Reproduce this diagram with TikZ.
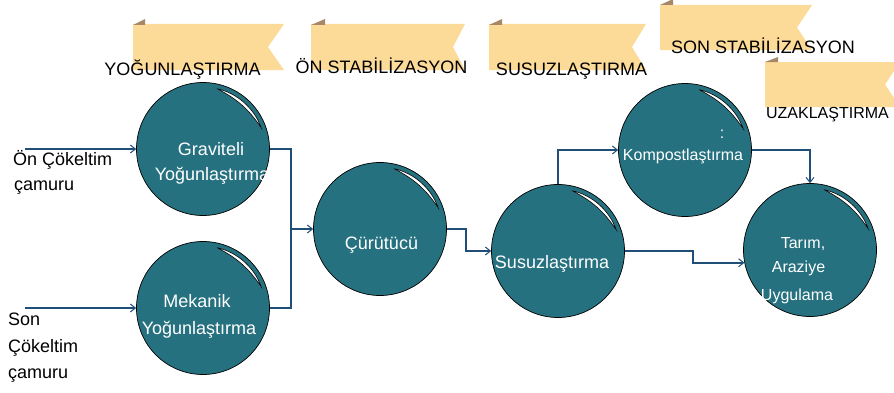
\documentclass[tikz,border=0pt]{standalone}
\usepackage{fontspec}
\setmainfont{Liberation Sans}
\usetikzlibrary{arrows.meta, positioning}

\definecolor{ribbon}{RGB}{252,218,152}
\definecolor{ribbonfold}{RGB}{166,136,104}
\definecolor{tankteal}{RGB}{38,113,128}
\definecolor{pipe}{RGB}{31,78,121}

\begin{document}
\begin{tikzpicture}[x=1pt, y=1pt,
    tank/.style={circle, draw=black, line width=0.7pt, fill=tankteal, minimum size=133pt, inner sep=0pt},
    intxt/.style={text=white, inner sep=0pt, anchor=base, font=\fontsize{18}{18}\selectfont},
    smalltxt/.style={intxt, font=\fontsize{16}{16}\selectfont},
    feedtxt/.style={inner sep=0pt, anchor=base west, font=\fontsize{18}{18}\selectfont},
    stagetxt/.style={inner sep=0pt, anchor=base, font=\fontsize{18}{18}\selectfont},
    line/.style={draw=pipe, line width=1.6pt},
    arrow/.style={line, -{Straight Barb[length=5pt, width=8pt, line width=1pt]}},
    banner/.style={fill=ribbon},
    fold/.style={fill=ribbonfold},
    shine/.style={fill=white, draw=black, line width=0.6pt}
]
\useasboundingbox (0,0) rectangle (894,392);
\clip (0,0) rectangle (894,392);

% ==== Stage banners ====
\fill[banner] (133,368) -- (284,368) -- (268,345) -- (284,322) -- (133,322) -- cycle;
\fill[fold] (133,367) -- (145,373) -- (145,367) -- cycle;
\fill[banner] (311,368) -- (465,368) -- (453,345) -- (465,322) -- (311,322) -- cycle;
\fill[fold] (311,367) -- (325,373) -- (325,367) -- cycle;
\fill[banner] (489,368) -- (646,368) -- (632,345) -- (646,322) -- (489,322) -- cycle;
\fill[fold] (489,367) -- (502,373) -- (502,367) -- cycle;
\fill[banner] (660,387) -- (812,387) -- (797,364.5) -- (812,342) -- (660,342) -- cycle;
\fill[fold] (660,387) -- (673,393) -- (673,387) -- cycle;
\fill[banner] (765,330) -- (900,330) -- (885,307.5) -- (900,285) -- (765,285) -- cycle;
\fill[fold] (765,330) -- (778,335) -- (778,330) -- cycle;

\node[stagetxt] (st1) at (182.5,317) {YOĞUNLAŞTIRMA};
\node[stagetxt] (st2) at (381.5,319) {ÖN STABİLİZASYON};
\node[stagetxt] (st3) at (571.5,317) {SUSUZLAŞTIRMA};
\node[stagetxt] (st4) at (763,338) {SON STABİLİZASYON};
\node[stagetxt, font=\fontsize{16}{16}\selectfont] (st5) at (827.5,274) {UZAKLAŞTIRMA};

% ==== Process units ====
\node[tank] (grav) at (203,243) {};
\node[tank] (mek) at (203,84) {};
\node[tank] (curu) at (380,163) {};
\node[tank] (susuz) at (558,141) {};
\node[tank] (komp) at (685,242) {};
\node[tank] (tarim) at (810,142) {};

% highlights
\filldraw[shine] ([shift={(77:62)}]grav.center) arc[start angle=77, end angle=20, radius=62] to[bend right=14] ([shift={(77:62)}]grav.center);
\filldraw[shine] ([shift={(77:62)}]mek.center) arc[start angle=77, end angle=20, radius=62] to[bend right=14] ([shift={(77:62)}]mek.center);
\filldraw[shine] ([shift={(77:62)}]curu.center) arc[start angle=77, end angle=20, radius=62] to[bend right=14] ([shift={(77:62)}]curu.center);
\filldraw[shine] ([shift={(77:62)}]susuz.center) arc[start angle=77, end angle=20, radius=62] to[bend right=14] ([shift={(77:62)}]susuz.center);
\filldraw[shine] ([shift={(77:62)}]komp.center) arc[start angle=77, end angle=20, radius=62] to[bend right=14] ([shift={(77:62)}]komp.center);
\filldraw[shine] ([shift={(77:62)}]tarim.center) arc[start angle=77, end angle=20, radius=62] to[bend right=14] ([shift={(77:62)}]tarim.center);

% ==== Unit labels ====
\node[intxt] (gravt1) at (211,237) {Graviteli};
\node[intxt] (gravt2) at (212,212) {Yoğunlaştırma};
\node[intxt] (mekt1) at (197,85) {Mekanik};
\node[intxt] (mekt2) at (199,58) {Yoğunlaştırma};
\node[intxt] (curut) at (381.5,143) {Çürütücü};
\node[intxt] (susuzt) at (552,124) {Susuzlaştırma};
\node[smalltxt] (kompt1) at (722,254) {:};
\node[smalltxt] (kompt2) at (683,232) {Kompostlaştırma};
\node[smalltxt] (tarimt1) at (803,144) {Tarım,};
\node[smalltxt] (tarimt2) at (798.5,120) {Araziye};
\node[smalltxt] (tarimt3) at (797,92) {Uygulama};

% ==== Sludge feeds ====
\node[feedtxt] (feed1a) at (13,227) {Ön Çökeltim};
\node[feedtxt] (feed1b) at (14,202) {çamuru};
\node[feedtxt] (feed2a) at (8,67) {Son};
\node[feedtxt] (feed2b) at (8,40) {Çökeltim};
\node[feedtxt] (feed2c) at (8,14) {çamuru};

\coordinate (feed1) at (25,243);
\coordinate (feed2) at (25,84);
\coordinate (join) at (291,163);

% ==== Flow lines ====
\draw[arrow] (feed1) -- (grav.west);
\draw[arrow] (feed2) -- (mek.west);
\draw[line] (grav.east) -| (join);
\draw[line] (mek.east) -| (join);
\draw[arrow] (join) -- (curu.west);
\draw[arrow] (curu.east) -- ++(19,0) |- (susuz.west);
\draw[arrow] (susuz.north) |- (komp.west);
\draw[arrow] (susuz.east) -- ++(68,0) |- (tarim.191);
\draw[arrow] (komp.east) -| (tarim.north);

\end{tikzpicture}
\end{document}
